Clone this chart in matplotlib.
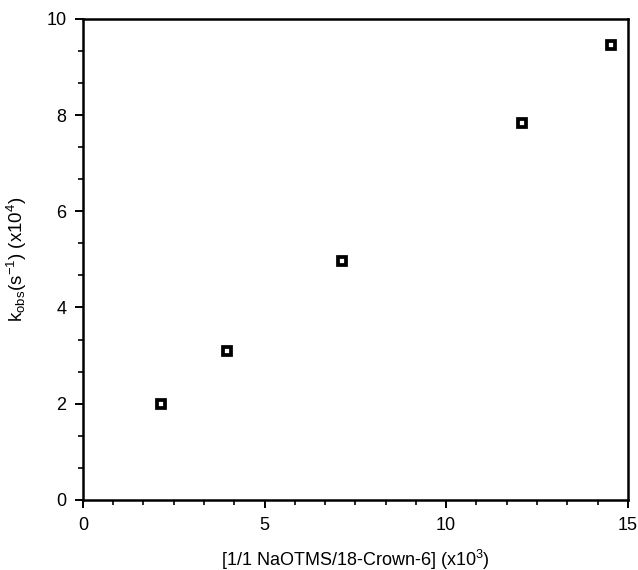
import matplotlib
matplotlib.use('Agg')
import matplotlib.pyplot as plt
from matplotlib.ticker import MultipleLocator

plt.rcParams['font.family'] = ['Liberation Sans', 'DejaVu Sans']
plt.rcParams['mathtext.fontset'] = 'custom'
plt.rcParams['mathtext.rm'] = 'Liberation Sans'
plt.rcParams['mathtext.it'] = 'Liberation Sans'

# data
conc = [2.15, 3.97, 7.12, 12.08, 14.53]      # x10^3
kobs = [1.99, 3.10, 4.97, 7.83, 9.46]        # x10^4 s^-1

fig = plt.figure(figsize=(6.38, 5.70), dpi=100)
ax = fig.add_axes([0.130, 0.123, 0.854, 0.844])

ax.plot(conc, kobs, linestyle='none', marker='s', markersize=5.3,
        markerfacecolor='white', markeredgecolor='black', markeredgewidth=2.7)

ax.set_xlim(0, 15)
ax.set_ylim(0, 10)
ax.xaxis.set_major_locator(MultipleLocator(5))
ax.xaxis.set_minor_locator(MultipleLocator(5 / 6))
ax.yaxis.set_major_locator(MultipleLocator(2))
ax.yaxis.set_minor_locator(MultipleLocator(2 / 3))
ax.tick_params(which='major', direction='out', length=6, width=1.4, labelsize=13, pad=6)
ax.tick_params(which='minor', direction='out', length=3.5, width=1.2)

for s in ax.spines.values():
    s.set_linewidth(1.8)

ax.set_xlabel(r'[1/1 NaOTMS/18-Crown-6] (x10$^{3}$)', fontsize=13, labelpad=10)
ax.set_ylabel(r'k$_{\rm obs}$(s$^{-1}$) (x10$^{4}$)', fontsize=13.5, labelpad=12)

fig.savefig('out.png', dpi=100)
